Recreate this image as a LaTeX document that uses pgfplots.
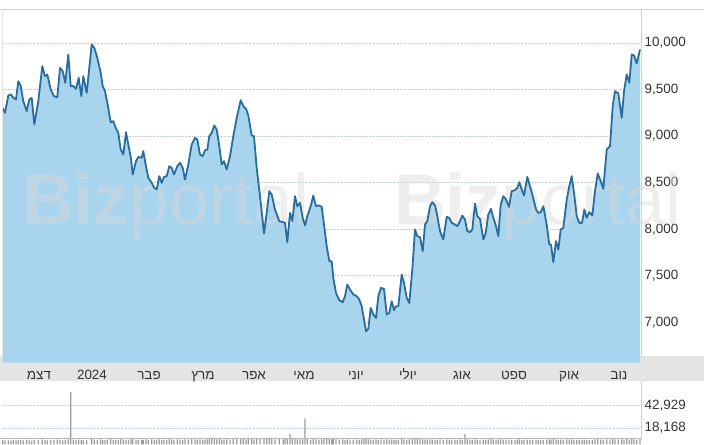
\documentclass[border=0pt]{standalone}
\usepackage{fontspec}
\setmainfont{Liberation Sans}
\newfontfamily\hebfont[Script=Hebrew]{Liberation Sans}
\usepackage{pgfplots}
\usepackage{pgfplotstable}
\pgfplotsset{compat=1.18}
\TeXXeTstate=1

\definecolor{linecol}{HTML}{276D9D}
\definecolor{fillcol}{HTML}{A9D4EE}
\definecolor{gridcol}{HTML}{C9D3DC}
\definecolor{bandcol}{HTML}{E4E4E4}
\definecolor{framecol}{HTML}{D0D0D0}
\definecolor{volcol}{HTML}{9B9B9B}
\definecolor{labcol}{HTML}{333333}

\newcommand{\heb}[1]{{\hebfont\beginR #1\endR}}

% t = horizontal position on the time axis, price = index close, vol = volume
\pgfplotstableread{
t price vol
2.7 9304 4800
5.0 9250 4400
8.3 9438 4600
11.0 9448 4300
13.3 9412 4900
16.0 9395 4500
18.3 9591 5100
20.7 9538 4700
23.3 9376 4400
26.7 9269 5200
29.3 9395 4600
31.7 9412 4300
34.3 9126 5400
38.3 9376 4800
42.3 9753 5600
45.0 9645 4900
47.3 9663 4500
50.7 9502 5000
54.0 9430 4700
57.3 9419 5300
60.0 9734 5100
62.7 9699 4600
65.3 9573 4800
68.3 9878 5500
70.7 9538 57500
73.3 9538 5200
76.0 9509 4700
78.7 9627 5400
81.3 9430 4900
83.3 9645 5100
86.7 9466 4600
91.7 9986 6000
94.3 9949 5400
97.3 9842 4900
100.7 9681 5600
102.7 9538 5100
105.0 9484 4700
107.3 9358 5300
110.7 9150 5800
113.3 9161 5000
115.7 9089 4800
118.3 9035 5400
120.7 8857 5900
123.3 8803 5200
126.0 9043 4900
128.5 8900 5100
131.0 8760 5600
132.7 8588 6000
136.0 8731 5300
138.3 8777 4900
141.7 8767 5400
143.3 8839 5100
146.0 8677 5700
148.3 8552 5200
151.7 8498 5500
154.3 8444 5000
156.7 8427 5300
159.3 8570 5600
161.7 8498 5100
164.0 8562 5400
166.7 8570 4900
169.3 8677 5800
171.7 8659 5300
174.0 8588 5000
177.3 8677 5500
180.0 8713 5200
182.7 8659 4800
185.0 8534 5600
188.3 8696 5400
191.7 8911 6100
195.0 8982 5700
197.3 8964 5200
200.0 8803 5500
202.7 8785 5000
205.0 8849 5300
207.3 8857 5700
209.3 9000 6200
211.7 9035 7800
214.3 9115 6000
216.7 9072 5600
219.3 8892 5900
221.7 8696 5400
224.0 8731 5200
226.7 8642 5700
230.0 8785 5300
233.3 9000 6000
236.7 9197 6300
240.7 9387 6600
243.3 9323 5900
246.0 9293 5500
248.3 9223 5800
251.7 9007 6200
254.0 9000 5600
256.7 8656 6100
260.0 8355 7000
264.0 7954 6400
266.7 8175 5800
269.3 8409 7900
271.7 8373 6000
275.0 8212 5600
279.3 8086 6200
283.3 8075 5700
285.0 8068 5900
287.3 7860 6500
290.0 8175 12000
292.3 8086 6100
295.0 8355 5800
297.3 8247 5500
300.0 8283 6000
302.7 8121 5600
305.0 8040 28500
307.3 8140 5900
310.7 8247 5400
313.3 8362 5800
316.0 8247 5500
319.0 8255 5200
321.7 8240 5700
324.0 8050 6000
326.7 7817 6400
329.3 7656 6200
331.7 7656 5600
333.3 7476 6300
336.0 7315 5900
339.3 7236 5400
342.7 7215 5700
345.0 7280 5100
347.3 7405 5500
350.0 7351 5200
353.3 7298 4900
356.7 7280 5300
359.3 7244 5000
361.7 7172 5600
364.0 7029 6000
366.0 6903 6400
368.3 6928 5700
370.7 7154 5300
373.3 7083 5000
376.0 7046 5400
378.3 7280 5100
381.0 7369 5600
384.0 7358 5200
386.7 7083 5500
389.3 7100 5000
391.7 7226 5300
394.0 7129 4900
396.0 7172 5200
398.3 7172 4800
401.7 7513 5800
404.0 7422 5400
406.7 7261 5100
409.3 7207 5500
412.3 7567 6000
415.0 7997 6600
417.3 7925 5900
420.0 7914 7400
422.7 7763 5700
425.0 8050 5500
427.3 8086 5200
430.0 8247 5700
432.3 8290 5300
435.0 8255 5000
437.3 8140 5400
440.0 7978 5600
443.3 7889 5100
446.7 8132 5500
449.3 8121 5000
451.7 8068 5300
455.0 8050 4900
457.3 8032 5200
460.0 8086 5600
462.3 8147 5100
465.0 8104 11500
467.3 7978 5700
470.0 7968 5200
472.3 7997 4900
475.0 8276 5600
477.3 8140 5100
480.0 8111 4800
483.3 7889 5300
485.7 7960 5000
488.3 8158 5500
491.0 8218 6800
493.3 8121 5200
496.0 8032 4900
498.3 7925 5400
500.7 8265 5700
503.3 8355 5200
506.0 8319 4900
509.0 8240 5300
511.7 8409 5000
515.0 8419 4800
517.3 8444 5200
519.3 8505 5500
521.7 8427 4900
524.0 8362 5100
527.3 8562 5400
530.0 8462 5000
532.7 8355 4800
536.0 8212 5200
538.3 8175 4900
540.7 8183 4700
543.3 8247 5100
546.7 8050 5400
549.3 7835 5700
551.0 7835 5200
553.3 7645 5900
556.0 7871 5300
558.3 7782 5000
560.7 7997 5400
563.3 8014 4900
566.7 8319 5600
569.3 8462 5200
571.7 8570 5700
574.0 8390 5100
576.7 8140 4800
579.3 8068 5200
582.0 8068 4900
584.3 8212 5300
586.7 8121 5000
589.3 8183 4800
592.3 8147 5100
595.0 8409 5500
597.7 8599 5800
600.7 8516 5300
603.3 8433 5000
606.7 8857 5700
610.0 8892 5400
612.7 9323 6000
615.0 9484 5600
618.3 9459 5200
621.7 9197 5700
624.0 9484 5400
626.7 9663 5800
629.3 9573 5300
631.7 9878 6100
634.0 9868 5600
636.7 9782 5300
640.0 9932 5900
}\series

\pgfplotsset{
  panel/.style={anchor=south west, scale only axis, width=639.5bp,
    xmin=2, xmax=641.5, clip=true},
  ticklab/.style={font=\fontsize{13.5}{15}\selectfont, text=labcol},
}

\begin{document}
\begin{tikzpicture}[x=1bp,y=1bp]
\useasboundingbox (0,0) rectangle (704,445);
\fill[bandcol] (0,64) rectangle (704,88.5);

% price panel: grid, ticks and area
\begin{axis}[panel, at={(2,88.5)}, height=346.5bp,
  ymin=6565, ymax=10290,
  axis line style={draw=none}, major tick length=0,
  ymajorgrids, grid style={densely dotted, gridcol, line width=0.7bp},
  scaled y ticks=false,
  ytick={7000,7500,...,10000}, yticklabel pos=right,
  /pgf/number format/fixed, /pgf/number format/1000 sep={,},
  /pgf/number format/assume math mode=true,
  yticklabel style={ticklab, anchor=west, inner sep=0pt, xshift=3bp},
  xtick={39,92,149,203,254,304,356,408,462,514,569,619},
  xticklabels={\heb{דצמ},2024,\heb{פבר},\heb{מרץ},\heb{אפר},\heb{מאי},
    \heb{יוני},\heb{יולי},\heb{אוג},\heb{ספט},\heb{אוק},\heb{נוב}},
  xticklabel style={ticklab, anchor=base, inner sep=0pt, yshift=-16.7bp},
]
\addplot[fill=fillcol, draw=none] table[x=t, y=price] {\series} \closedcycle;
\end{axis}

% watermark
\node[anchor=base west, inner sep=0pt, text=gray!30, opacity=0.45,
  font=\fontsize{72}{72}\selectfont] at (22,220) {\textbf{Biz}portal};
\node[anchor=base west, inner sep=0pt, text=gray!30, opacity=0.45,
  font=\fontsize{72}{72}\selectfont] at (394,220) {\textbf{Biz}portal};

% price line on top
\begin{axis}[panel, at={(2,88.5)}, height=346.5bp,
  ymin=6565, ymax=10290, hide axis]
\addplot[linecol, line width=1.8bp, line join=round] table[x=t, y=price] {\series};
\end{axis}

% volume panel
\begin{axis}[panel, at={(2,6)}, height=58bp,
  ymin=0, ymax=63840,
  axis line style={draw=none}, major tick length=0,
  ymajorgrids, grid style={densely dotted, gridcol, line width=0.7bp},
  scaled y ticks=false, xtick=\empty,
  ytick={18168,42929}, yticklabel pos=right,
  /pgf/number format/fixed, /pgf/number format/1000 sep={,},
  /pgf/number format/assume math mode=true,
  yticklabel style={ticklab, anchor=west, inner sep=0pt, xshift=3bp},
]
\addplot[ybar, bar width=1.3, fill=volcol, draw=none] table[x=t, y=vol] {\series};
\end{axis}

% frame lines
\draw[framecol, line width=0.8bp] (0,436) -- (704,436);
\draw[framecol, line width=0.8bp] (641.5,88.5) -- (641.5,436);
\draw[framecol, line width=0.8bp] (641.5,6) -- (641.5,64);
\draw[framecol!60, line width=0.8bp] (2,88.5) -- (2,436);
\draw[gray!55, line width=1bp] (0,6) -- (641.5,6);
\end{tikzpicture}
\end{document}
